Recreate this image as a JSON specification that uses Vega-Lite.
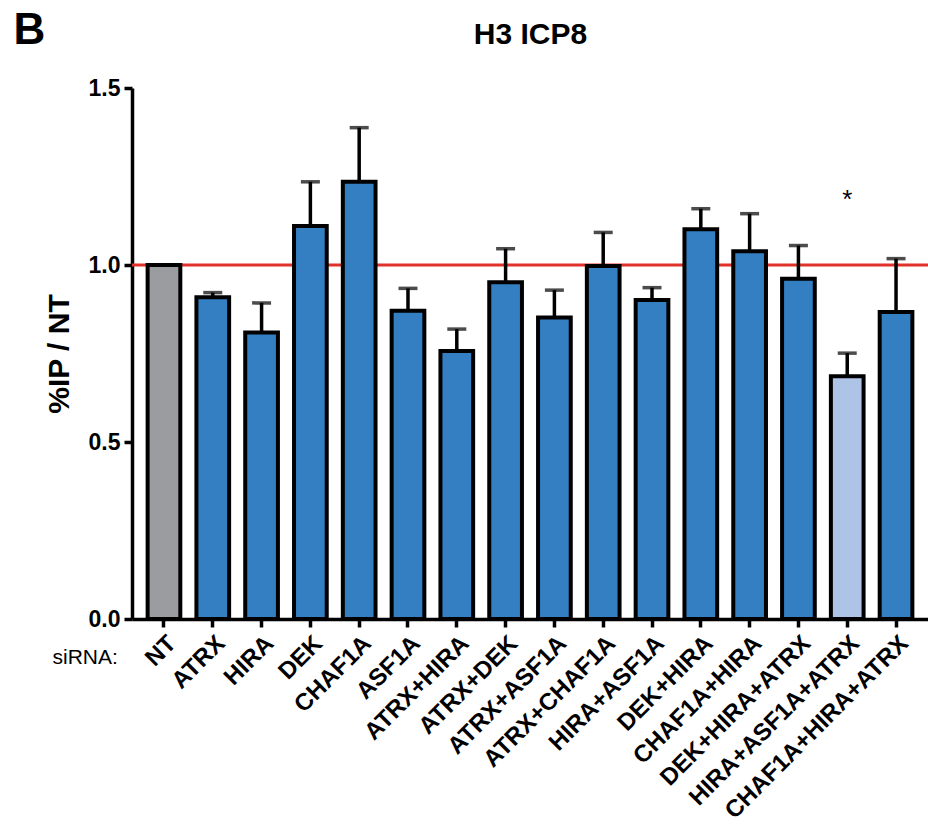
{
  "$schema": "https://vega.github.io/schema/vega-lite/v6.json",
  "autosize": "none",
  "width": 796,
  "height": 531,
  "padding": {"left": 132, "top": 88, "right": 0, "bottom": 207},
  "config": {
    "font": "Liberation Sans",
    "view": {"stroke": null},
    "axis": {"grid": false}
  },
  "datasets": {
    "bars": [
      {"siRNA": "NT", "value": 1.0, "upper": null, "group": "ctrl"},
      {"siRNA": "ATRX", "value": 0.909, "upper": 0.922, "group": "kd"},
      {"siRNA": "HIRA", "value": 0.809, "upper": 0.893, "group": "kd"},
      {"siRNA": "DEK", "value": 1.110, "upper": 1.235, "group": "kd"},
      {"siRNA": "CHAF1A", "value": 1.235, "upper": 1.388, "group": "kd"},
      {"siRNA": "ASF1A", "value": 0.871, "upper": 0.934, "group": "kd"},
      {"siRNA": "ATRX+HIRA", "value": 0.757, "upper": 0.819, "group": "kd"},
      {"siRNA": "ATRX+DEK", "value": 0.951, "upper": 1.046, "group": "kd"},
      {"siRNA": "ATRX+ASF1A", "value": 0.852, "upper": 0.929, "group": "kd"},
      {"siRNA": "ATRX+CHAF1A", "value": 0.997, "upper": 1.092, "group": "kd"},
      {"siRNA": "HIRA+ASF1A", "value": 0.901, "upper": 0.936, "group": "kd"},
      {"siRNA": "DEK+HIRA", "value": 1.101, "upper": 1.159, "group": "kd"},
      {"siRNA": "CHAF1A+HIRA", "value": 1.039, "upper": 1.145, "group": "kd"},
      {"siRNA": "DEK+HIRA+ATRX", "value": 0.961, "upper": 1.055, "group": "kd"},
      {"siRNA": "HIRA+ASF1A+ATRX", "value": 0.686, "upper": 0.751, "group": "sig"},
      {"siRNA": "CHAF1A+HIRA+ATRX", "value": 0.867, "upper": 1.018, "group": "kd"}
    ],
    "ref": [{"y": 1.0}],
    "star": [{"siRNA": "HIRA+ASF1A+ATRX", "y": 1.16, "text": "*"}]
  },
  "resolve": {"axis": {"x": "independent", "y": "independent"}},
  "layer": [
    {
      "data": {"name": "ref"},
      "mark": {"type": "rule", "color": "#e1312b", "strokeWidth": 3},
      "encoding": {
        "y": {
          "field": "y", "type": "quantitative",
          "scale": {"domain": [0, 1.5], "nice": false},
          "axis": {
            "orient": "left", "domain": false, "ticks": false, "labels": false,
            "title": "B", "titleAngle": 0, "titleX": -119, "titleY": -45,
            "titleAlign": "left", "titleBaseline": "alphabetic",
            "titleFontSize": 44, "titleFontWeight": "bold", "titleColor": "black"
          }
        }
      }
    },
    {
      "data": {"name": "bars"},
      "mark": {"type": "bar", "stroke": "black", "strokeWidth": 4},
      "encoding": {
        "x": {
          "field": "siRNA", "type": "nominal", "sort": null,
          "scale": {"paddingInner": 0.33, "paddingOuter": 0.32},
          "axis": {
            "orient": "bottom",
            "domainColor": "black", "domainWidth": 3.5,
            "tickColor": "black", "tickWidth": 3.5, "tickSize": 8,
            "labelAngle": -45, "labelFontSize": 24, "labelFontWeight": "bold",
            "labelColor": "black", "labelPadding": 4, "labelLimit": 500,
            "title": "siRNA:", "titleAngle": 0, "titleX": -80, "titleY": 44,
            "titleAlign": "left", "titleBaseline": "alphabetic",
            "titleFontSize": 21, "titleFontWeight": "normal", "titleColor": "black"
          }
        },
        "y": {
          "field": "value", "type": "quantitative",
          "scale": {"domain": [0, 1.5], "nice": false},
          "axis": {
            "orient": "left",
            "values": [0, 0.5, 1.0, 1.5], "format": ".1f",
            "domainColor": "black", "domainWidth": 3.5,
            "tickColor": "black", "tickWidth": 3.5, "tickSize": 8,
            "labelFontSize": 23, "labelFontWeight": "bold", "labelColor": "black",
            "labelPadding": 4,
            "title": "%IP / NT", "titleFontSize": 30, "titleFontWeight": "bold",
            "titleColor": "black", "titlePadding": 14
          }
        },
        "fill": {
          "field": "group", "type": "nominal",
          "scale": {"domain": ["ctrl", "kd", "sig"], "range": ["#9b9ca0", "#337fc2", "#aec4e6"]},
          "legend": null
        }
      }
    },
    {
      "data": {"name": "bars"},
      "transform": [{"filter": "datum.upper != null"}],
      "mark": {"type": "rule", "color": "black", "strokeWidth": 3.5},
      "encoding": {
        "x": {
          "field": "siRNA", "type": "nominal", "sort": null,
          "axis": {
            "orient": "top", "domain": false, "ticks": false, "labels": false,
            "title": "H3 ICP8", "titleX": 398, "titleY": -45,
            "titleAlign": "center", "titleBaseline": "alphabetic",
            "titleFontSize": 30, "titleFontWeight": "bold", "titleColor": "black"
          }
        },
        "y": {"field": "value", "type": "quantitative", "axis": null},
        "y2": {"field": "upper"}
      }
    },
    {
      "data": {"name": "bars"},
      "transform": [{"filter": "datum.upper != null"}],
      "mark": {"type": "tick", "color": "black", "thickness": 3.5, "size": 19, "orient": "horizontal"},
      "encoding": {
        "x": {"field": "siRNA", "type": "nominal", "sort": null, "axis": null},
        "y": {"field": "upper", "type": "quantitative", "axis": null}
      }
    },
    {
      "data": {"name": "star"},
      "mark": {"type": "text", "fontSize": 26, "baseline": "alphabetic", "color": "black"},
      "encoding": {
        "x": {"field": "siRNA", "type": "nominal", "sort": null, "axis": null},
        "y": {"field": "y", "type": "quantitative", "axis": null},
        "text": {"field": "text"}
      }
    }
  ]
}
